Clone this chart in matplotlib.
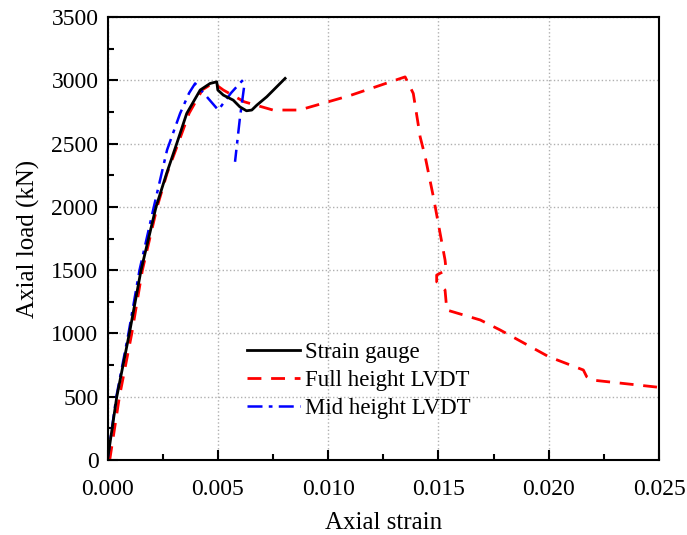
import matplotlib.pyplot as plt
from matplotlib.ticker import MultipleLocator, FormatStrFormatter

plt.rcParams['font.family'] = ['Liberation Serif', 'DejaVu Serif']

# Strain gauge
sg_strain = [0.0, 0.00042, 0.00099, 0.00152, 0.0022, 0.00268, 0.00314, 0.00359, 0.0042, 0.00465,
             0.00495, 0.0050, 0.00525, 0.0057, 0.0060, 0.0063, 0.00654, 0.00677, 0.00722, 0.00805]
sg_load = [0, 500, 1000, 1500, 2000, 2265, 2501, 2738, 2923, 2975,
           2988, 2923, 2883, 2843, 2790, 2759, 2765, 2804, 2870, 3015]

# Full height LVDT
fh_strain = [0.0001, 0.00054, 0.0011, 0.00158, 0.00225, 0.0027, 0.0032, 0.0037, 0.0043, 0.0048,
             0.00525, 0.0062, 0.0075, 0.0087, 0.0110, 0.01349, 0.01386, 0.0141, 0.01417, 0.0144,
             0.01477, 0.0153, 0.01535, 0.01492, 0.01492, 0.0153, 0.01538, 0.0169, 0.0178, 0.0200,
             0.02157, 0.02172, 0.02195, 0.025]
fh_load = [0, 500, 1000, 1500, 2000, 2265, 2500, 2740, 2925, 2980,
           2923, 2830, 2765, 2765, 2880, 3027, 2896, 2633, 2554, 2396,
           2080, 1580, 1500, 1461, 1408, 1343, 1185, 1106, 1027, 816,
           711, 658, 632, 574]

# Mid height LVDT
mh_strain = [0.0, 0.0004, 0.00095, 0.00145, 0.0021, 0.0027, 0.00329, 0.0037, 0.00397, 0.0045,
             0.00502, 0.0056, 0.0061, 0.0062, 0.0060, 0.00578]
mh_load = [0, 500, 1000, 1500, 2000, 2450, 2738, 2900, 2975, 2870,
           2765, 2900, 2996, 2960, 2700, 2356]

fig = plt.figure(figsize=(6.87, 5.35), dpi=100)
ax = fig.add_axes([0.1565, 0.1402, 0.8028, 0.828])

ax.plot(sg_strain, sg_load, color='black', lw=2, label='Strain gauge', zorder=3)
ax.plot(fh_strain, fh_load, color='red', lw=2, ls=(0, (5, 3.5)), label='Full height LVDT', zorder=2)
ax.plot(mh_strain, mh_load, color='blue', lw=1.8, ls=(0, (6, 2.5, 1.5, 2.5)), label='Mid height LVDT', zorder=2)

ax.set_xlim(0, 0.025)
ax.set_ylim(0, 3500)
ax.xaxis.set_major_locator(MultipleLocator(0.005))
ax.xaxis.set_minor_locator(MultipleLocator(0.0025))
ax.yaxis.set_major_locator(MultipleLocator(500))
ax.yaxis.set_minor_locator(MultipleLocator(250))
ax.xaxis.set_major_formatter(FormatStrFormatter('%.3f'))
ax.tick_params(which='both', direction='in', top=False, right=False, labelsize=17, width=1.5)
ax.tick_params(which='major', length=7)
ax.tick_params(which='minor', length=4)
ax.tick_params(axis='x', pad=14)
ax.tick_params(axis='y', pad=6.5)
for s in ax.spines.values():
    s.set_linewidth(1.5)

ax.grid(True, which='major', color='#b0b0b0', ls=':', lw=1)
ax.set_axisbelow(True)

ax.set_xlabel('Axial strain', fontsize=18, labelpad=8)
ax.set_ylabel('Axial load (kN)', fontsize=18, labelpad=8)

ax.legend(loc='lower left', bbox_to_anchor=(0.233, 0.067), frameon=False, fontsize=16.5,
          handlelength=2.3, handletextpad=0.22, labelspacing=0.29, borderpad=0)

fig.savefig('out.png', dpi=100)
